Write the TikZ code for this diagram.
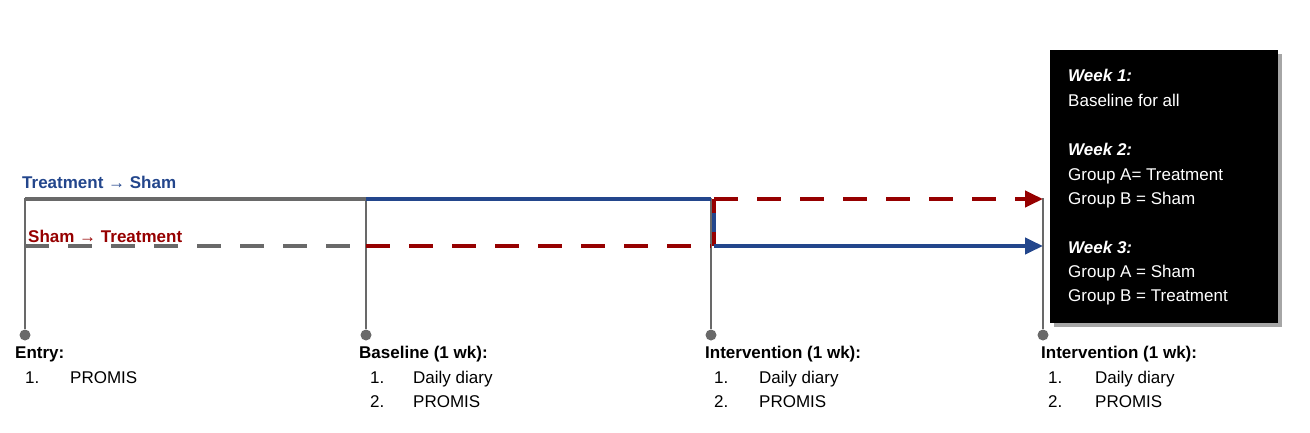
\documentclass[tikz,border=0pt]{standalone}
\usepackage{fontspec}
\setmainfont{Liberation Sans}
\usetikzlibrary{arrows.meta}
\definecolor{tblue}{RGB}{35,70,140}
\definecolor{tred}{RGB}{150,0,0}
\definecolor{tgray}{RGB}{105,105,105}
\begin{document}
\begin{tikzpicture}[x=1pt,y=-1pt,
  txt/.style={anchor=base west,inner sep=0pt,font=\fontsize{17}{20}\selectfont},
  bt/.style={txt,font=\fontsize{17}{20}\selectfont\bfseries},
  tick/.style={draw=tgray,line width=2pt},
  dot/.style={circle,fill=tgray,inner sep=0pt,minimum size=11pt},
  solidln/.style={line width=4pt},
  dashln/.style={line width=4pt,dash pattern=on 24pt off 19pt},
  arr/.style={-{Triangle[length=18pt,width=16pt]}}]
\useasboundingbox (0,0) rectangle (1310,432);
% ticks
\foreach \n/\x in {a/25,b/366,c/711,d/1043}{
  \coordinate (\n t) at (\x,198);
  \node[dot] (\n d) at (\x,335) {};
  \draw[tick] (\n t) -- (\n d);
}
% lines
\coordinate (t0) at (25,199); \coordinate (t1) at (366,199); \coordinate (t2) at (711,199); \coordinate (t3) at (1043,199);
\coordinate (b0) at (25,246); \coordinate (b1) at (366,246); \coordinate (b2) at (711,246); \coordinate (b3) at (1043,246);
\coordinate (m1) at (714,199); \coordinate (m2) at (714,246);
\draw[solidln,tgray] (t0) -- (t1);
\draw[solidln,tblue] (t1) -- (t2);
\draw[dashln,tgray] (b0) -- (b1);
\draw[dashln,tred] (b1) -- (b2);
\draw[solidln,tblue] (m1) -- (m2);
\draw[line width=4pt,tred,dash pattern=on 14pt off 19pt] (m1) -- (m2);
\draw[dashln,tred,arr] (m1) -- (t3);
\draw[solidln,tblue,arr] (m2) -- (b3);
\node[bt,text=tblue] (l1) at (22,188) {Treatment → Sham};
\node[bt,text=tred] (l2) at (28,242) {Sham → Treatment};
% black box
\fill[black!35] (1054,54) rectangle (1282,327);
\node[fill=black,minimum width=228pt,minimum height=273pt,anchor=north west,inner sep=0pt] (box) at (1050,50) {};
\begin{scope}[every node/.style={txt,text=white}]
\node at (1068,81) {\bfseries\itshape Week 1:};
\node at (1068,106) {Baseline for all};
\node at (1068,155) {\bfseries\itshape Week 2:};
\node at (1068,180) {Group A= Treatment};
\node at (1068,204) {Group B = Sham};
\node at (1068,253) {\bfseries\itshape Week 3:};
\node at (1068,277) {Group A = Sham};
\node at (1068,301) {Group B = Treatment};
\end{scope}
% bottom texts
\node[bt] (e0) at (15,358) {Entry:};
\node[txt] (e1) at (25,383) {1.};
\node[txt] (e1t) at (70,383) {PROMIS};
\foreach \n/\h/\xh/\xn/\xt in {b/Baseline (1 wk):/359/370/413, c/Intervention (1 wk):/705/714/759, d/Intervention (1 wk):/1041/1048/1095}{
  \node[bt] (\n h) at (\xh,358) {\h};
  \node[txt] (\n n1) at (\xn,383) {1.};
  \node[txt] (\n t1) at (\xt,383) {Daily diary};
  \node[txt] (\n n2) at (\xn,407) {2.};
  \node[txt] (\n t2) at (\xt,407) {PROMIS};
}
\end{tikzpicture}
\end{document}
